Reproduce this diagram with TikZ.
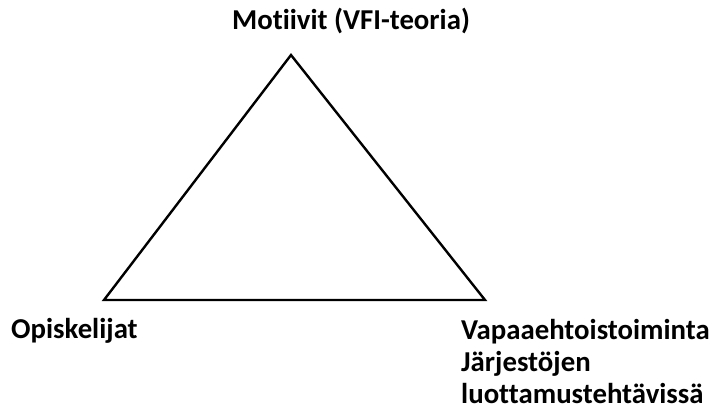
\documentclass[tikz,border=0pt]{standalone}
\usepackage{fontspec}
\setmainfont{Carlito}[Ligatures=NoCommon]
\usetikzlibrary{positioning}

\begin{document}
\begin{tikzpicture}[
  x=1pt, y=-1pt,
  font=\fontsize{28.8}{32}\selectfont\bfseries,
  lbl/.style={inner sep=0pt, align=left},
  side/.style={line width=2.4pt, line join=miter}
]
\useasboundingbox (0,0) rectangle (713,412);
\coordinate (top) at (291,55);
\coordinate (bl) at (104,300);
\coordinate (br) at (485,300);
\draw[side] (top) -- (bl) -- (br) -- cycle;
\node[lbl, anchor=base] (mot) at (351,30) {Motiivit (VFI-teoria)};
\node[lbl, anchor=base west] (opi) at (11,338) {Opiskelijat};
\node[lbl, anchor=base west] (vap) at (461,403) {Vapaaehtoistoiminta\\Järjestöjen\\luottamustehtävissä};
\end{tikzpicture}
\end{document}
